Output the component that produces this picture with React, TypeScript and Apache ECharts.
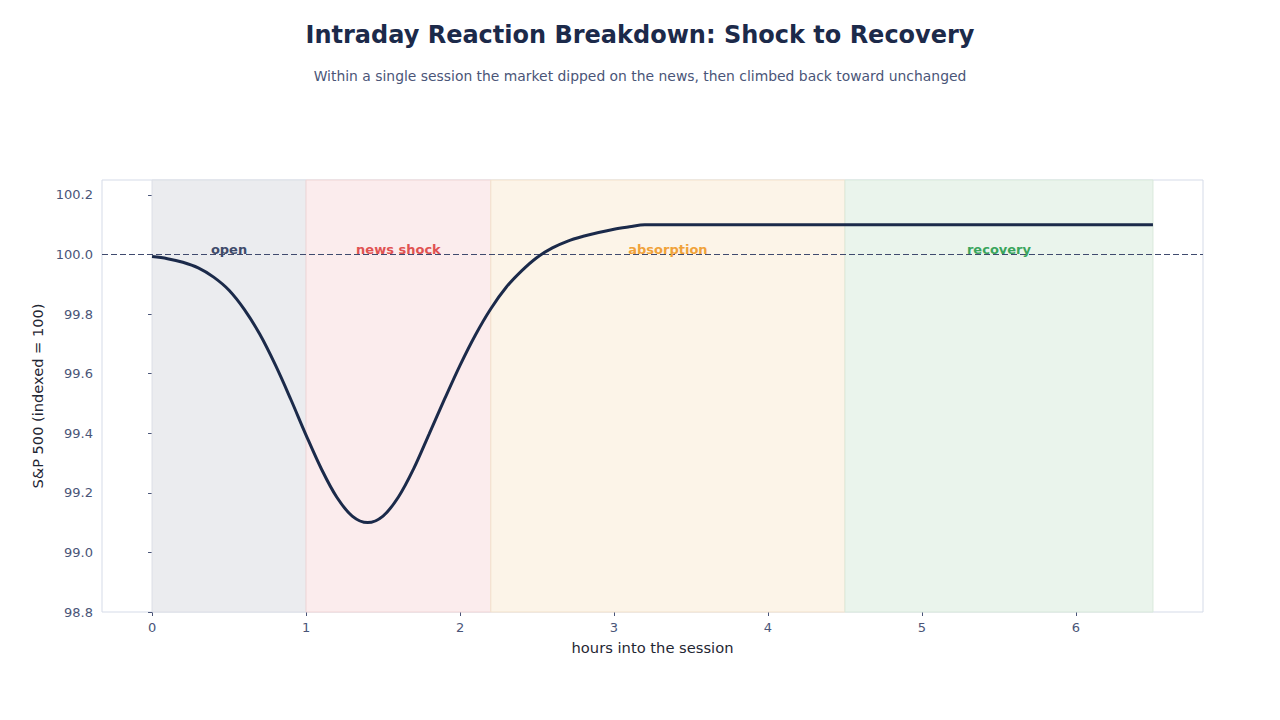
import React, { useEffect, useRef } from "react";
import * as echarts from "echarts";

// Session path, indexed to 100 at the open
const hours = [
  0.0, 0.1, 0.2, 0.3, 0.4, 0.5, 0.6, 0.7, 0.8, 0.9,
  1.0, 1.1, 1.2, 1.3, 1.4, 1.5, 1.6, 1.7, 1.8, 1.9,
  2.0, 2.1, 2.2, 2.3, 2.4, 2.5, 2.6, 2.7, 2.8, 2.9,
  3.0, 3.1, 3.2, 3.3, 3.5, 4.0, 5.0, 6.0, 6.5,
];
const indexLevel = [
  99.993, 99.986, 99.974, 99.955, 99.924, 99.88, 99.815, 99.732, 99.63, 99.515,
  99.394, 99.28, 99.185, 99.122, 99.1, 99.122, 99.186, 99.282, 99.398, 99.515,
  99.628, 99.73, 99.818, 99.89, 99.945, 99.99, 100.022, 100.045, 100.061, 100.074,
  100.085, 100.093, 100.1, 100.1, 100.1, 100.1, 100.1, 100.1, 100.1,
];

// Session phases
const phaseNames = ["open", "news shock", "absorption", "recovery"];
const phaseStart = [0, 1, 2.2, 4.5];
const phaseEnd = [1, 2.2, 4.5, 6.5];
const phaseFill = ["#ebecef", "#fbeced", "#fcf4e8", "#eaf4ec"];
const phaseEdge = ["#dcdfe6", "#f0d6d6", "#f3e2cc", "#d9e9dc"];
const phaseText = ["#3f4b6b", "#e05252", "#f0a23a", "#3aa55c"];

const baseline = 100;
const xTicks = [0, 1, 2, 3, 4, 5, 6];
const yTicks = [98.8, 99.0, 99.2, 99.4, 99.6, 99.8, 100.0, 100.2];

const FONT = "DejaVu Sans";

export default function App() {
  const ref = useRef<HTMLDivElement>(null);

  useEffect(() => {
    if (!ref.current) return;
    const chart = echarts.init(ref.current, null, { renderer: "svg" });

    const lineData = hours.map((h, i) => [h, indexLevel[i]]);
    const phaseAreas = phaseNames.map((n, i) => [
      {
        xAxis: phaseStart[i],
        itemStyle: { color: phaseFill[i], borderColor: phaseEdge[i], borderWidth: 1, opacity: 1 },
      },
      { xAxis: phaseEnd[i] },
    ]);
    const labelData = phaseNames.map((n, i) => ({
      value: [(phaseStart[i] + phaseEnd[i]) / 2, baseline],
      name: n,
      label: { color: phaseText[i] },
    }));

    chart.setOption({
      animation: false,
      backgroundColor: "#ffffff",
      title: [
        {
          text: "Intraday Reaction Breakdown: Shock to Recovery",
          left: "center",
          top: 18,
          textStyle: { fontFamily: FONT, fontSize: 24, fontWeight: "bold", color: "#1c2a4a" },
        },
        {
          text: "Within a single session the market dipped on the news, then climbed back toward unchanged",
          left: "center",
          top: 64,
          textStyle: { fontFamily: FONT, fontSize: 13.9, fontWeight: "normal", color: "#4a5578" },
        },
      ],
      grid: {
        left: 102,
        right: 77,
        top: 180,
        bottom: 108,
        show: true,
        borderColor: "#d5dbe8",
        borderWidth: 1,
        backgroundColor: "transparent",
      },
      xAxis: {
        type: "value",
        min: -0.325,
        max: 6.825,
        name: "hours into the session",
        nameLocation: "middle",
        nameGap: 28,
        nameTextStyle: { fontFamily: FONT, fontSize: 14.7, color: "#1f2633" },
        axisLine: { show: false },
        axisTick: { show: true, length: 4, customValues: xTicks, lineStyle: { color: "#4a5578" } },
        axisLabel: {
          customValues: xTicks,
          fontFamily: FONT,
          fontSize: 13,
          color: "#4a5578",
          margin: 9,
          formatter: (v: number) => String(Math.round(v)),
        },
        splitLine: { show: false },
      },
      yAxis: {
        type: "value",
        min: 98.8,
        max: 100.25,
        name: "S&P 500 (indexed = 100)",
        nameLocation: "middle",
        nameGap: 55,
        nameTextStyle: { fontFamily: FONT, fontSize: 14.6, color: "#1f2633" },
        axisLine: { show: false },
        axisTick: { show: true, length: 4, customValues: yTicks, lineStyle: { color: "#4a5578" } },
        axisLabel: {
          customValues: yTicks,
          fontFamily: FONT,
          fontSize: 13,
          color: "#4a5578",
          margin: 9,
          formatter: (v: number) => v.toFixed(1),
        },
        splitLine: { show: false },
      },
      series: [
        {
          type: "line",
          data: [],
          silent: true,
          z: 1,
          markArea: { silent: true, data: phaseAreas },
          markLine: {
            silent: true,
            symbol: "none",
            label: { show: false },
            lineStyle: { color: "#3f4a6e", width: 1.2, type: [6, 3], opacity: 1 },
            data: [{ yAxis: baseline }],
          },
        },
        {
          type: "scatter",
          data: labelData,
          symbolSize: 0,
          silent: true,
          z: 20,
          label: {
            show: true,
            position: "top",
            distance: -2,
            formatter: "{b}",
            fontFamily: FONT,
            fontSize: 13,
            fontWeight: "bold",
            opacity: 1,
          },
        },
        {
          type: "line",
          data: lineData,
          showSymbol: false,
          smooth: 0.35,
          z: 10,
          lineStyle: { color: "#1b2a4a", width: 3 },
        },
      ],
    });

    return () => chart.dispose();
  }, []);

  return (
    <div
      ref={ref}
      style={{ position: "fixed", left: 0, top: 0, width: 1280, height: 720 }}
    />
  );
}
